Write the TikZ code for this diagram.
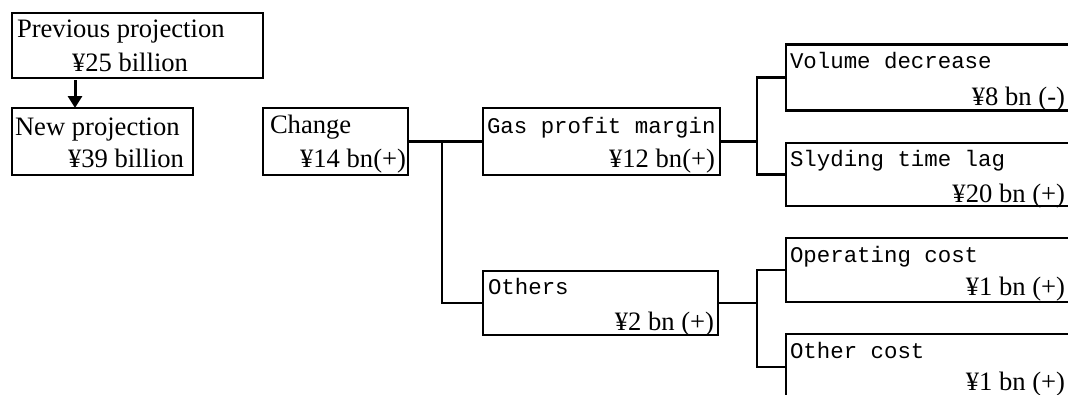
\documentclass[tikz,border=0pt]{standalone}
\usepackage{fontspec}
\setmainfont{Liberation Serif}
\newfontfamily\monofont{Liberation Mono}
\usetikzlibrary{arrows.meta}
\begin{document}
\begin{tikzpicture}[x=1pt,y=-1pt,
  box/.style={draw, line width=2.2pt, inner sep=0pt, outer sep=0pt},
  conn/.style={line width=2.2pt},
  serif/.style={inner sep=0pt, outer sep=0pt, font=\fontsize{26.6}{30}\selectfont},
  mono/.style={inner sep=0pt, outer sep=0pt, font=\fontsize{22.4}{26}\selectfont\monofont}]
\useasboundingbox (0,0) rectangle (1068,394);
\clip (0,0) rectangle (1068,394);

% boxes
\node[box, minimum width=251pt, minimum height=65pt] (prev) at (137.5,45.5) {};
\node[box, minimum width=181pt, minimum height=67pt] (new) at (102.5,141.5) {};
\node[box, minimum width=145pt, minimum height=67pt] (chg) at (335.5,141.5) {};
\node[box, minimum width=237pt, minimum height=67pt] (gas) at (601.5,141.5) {};
\node[box, minimum width=235pt, minimum height=64pt] (oth) at (600.5,303) {};
\node[box, minimum width=294pt, minimum height=66pt] (vol) at (933,77.5) {};
\node[box, minimum width=294pt, minimum height=63pt] (sly) at (933,174.5) {};
\node[box, minimum width=294pt, minimum height=64pt] (ope) at (933,270) {};
\node[box, minimum width=294pt, minimum height=66pt] (oc) at (933,367) {};

% texts
\node[serif, anchor=base west] (prevA) at (17,37) {Previous projection};
\node[serif, anchor=base west] (prevB) at (72,71) {¥25 billion};
\node[serif, anchor=base west] (newA) at (15,135) {New projection};
\node[serif, anchor=base west] (newB) at (68,167) {¥39 billion};
\node[serif, anchor=base west] (chgA) at (270,133) {Change};
\node[serif, anchor=base east] (chgB) at (406,167) {¥14 bn(+)};
\node[mono, anchor=base west] (gasA) at (487,133) {Gas profit margin};
\node[serif, anchor=base east] (gasB) at (715,167) {¥12 bn(+)};
\node[mono, anchor=base west] (othA) at (488,294) {Others};
\node[serif, anchor=base east] (othB) at (714,330) {¥2 bn (+)};
\node[mono, anchor=base west] (volA) at (790,68) {Volume decrease};
\node[serif, anchor=base east] (volB) at (1065,105) {¥8 bn (-)};
\node[mono, anchor=base west] (slyA) at (790,166) {Slyding time lag};
\node[serif, anchor=base east] (slyB) at (1065,202) {¥20 bn (+)};
\node[mono, anchor=base west] (opeA) at (790,262) {Operating cost};
\node[serif, anchor=base east] (opeB) at (1065,295) {¥1 bn (+)};
\node[mono, anchor=base west] (ocA) at (790,358) {Other cost};
\node[serif, anchor=base east] (ocB) at (1065,390) {¥1 bn (+)};

% arrow
\draw[line width=3pt, -{Triangle[length=12pt,width=14pt]}]
  ([xshift=63pt,yshift=-2pt]prev.south west) -- ([xshift=63pt]new.north west);

% connectors
\coordinate (j1) at (442,141.5);
\coordinate (jG) at (757,141.5);
\coordinate (jO) at (757,303);
\draw[conn] (chg.east) -- (gas.west);
\draw[conn] (j1) |- (oth.west);
\draw[conn] (gas.east) -- (jG);
\draw[conn] (vol.west) -| (jG) |- (sly.west);
\draw[conn] (oth.east) -- (jO);
\draw[conn] (ope.west) -| (jO) |- (oc.west);
\end{tikzpicture}
\end{document}
